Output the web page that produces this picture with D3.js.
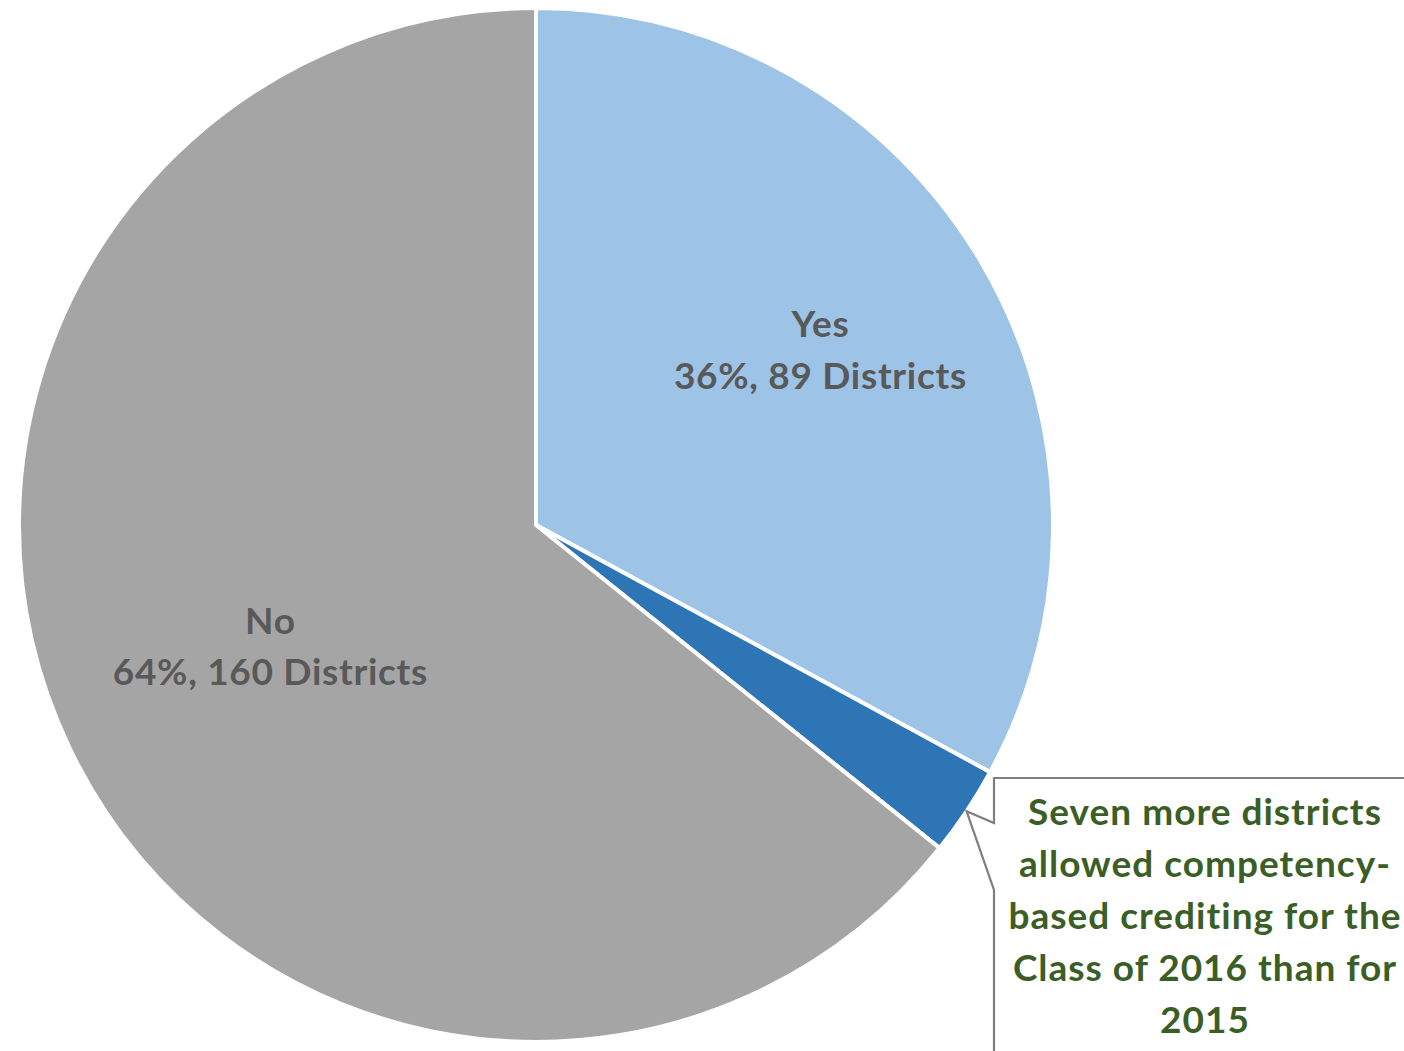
<!DOCTYPE html>
<html>
<head>
<meta charset="utf-8">
<script src="https://cdn.jsdelivr.net/npm/d3@7"></script>
<style>
  body { margin: 0; background: #fff; }
  svg { display: block; }
</style>
</head>
<body>
<div id="chart"></div>
<script>
// slices in drawing order (clockwise from 12 o'clock)
var slices = ['Yes', 'Seven more', 'No'];
var districts = [82, 7, 160];
var sliceColors = ['#9dc3e6', '#2e75b6', '#a5a5a5'];

// data labels: name, count of districts
var labelNames = ['Yes', 'No'];
var labelCounts = [89, 160];
var labelSlice = [0, 2];

var calloutLines = ['Seven more districts', 'allowed competency-', 'based crediting for the', 'Class of 2016 than for', '2015'];

var svgwidth = 1404;
var svgheight = 1051;
var cx = 536, cy = 525, radius = 517;
var total = d3.sum(districts);

var svg = d3.select('#chart')
    .append('svg')
    .attr('width', svgwidth)
    .attr('height', svgheight);

var g = svg.append('g')
    .attr('transform', `translate(${cx}, ${cy})`);

var pie = d3.pie().sort(null).value(d => d.value);
var arcs = pie(slices.map((s, i) => ({ name: s, value: districts[i] })));

var arc = d3.arc().innerRadius(0).outerRadius(radius);

g.selectAll('path')
    .data(arcs)
    .join('path')
    .attr('d', arc)
    .attr('fill', (d, i) => sliceColors[i])
    .attr('stroke', '#fff')
    .attr('stroke-width', 4)
    .attr('stroke-linejoin', 'miter');

// labels
var labelR = [0.64, 0.57];
labelNames.forEach(function (name, i) {
    var a = arcs[labelSlice[i]];
    var r = radius * labelR[i];
    var la = d3.arc().innerRadius(r).outerRadius(r);
    var p = la.centroid(a);
    var pct = Math.round(labelCounts[i] / total * 100);
    var t = g.append('text')
        .attr('x', p[0])
        .attr('y', p[1])
        .attr('text-anchor', 'middle')
        .attr('fill', '#595959')
        .style('font-family', 'Lato, sans-serif')
        .style('font-weight', 700)
        .style('font-size', '37px')
        .style('letter-spacing', '0.7px');
    t.append('tspan').attr('x', p[0]).attr('dy', '-0.5em').text(name);
    t.append('tspan').attr('x', p[0]).attr('dy', '1.38em').text(pct + '%, ' + labelCounts[i] + ' Districts');
});

// callout box pointing at the small slice
var small = arcs[1];
var tipAngle = (small.startAngle + small.endAngle) / 2;
var tip = [cx + Math.sin(tipAngle) * radius, cy - Math.cos(tipAngle) * radius];
var bx = 994, by = 778, bw = 430, bh = 290;

svg.append('path')
    .attr('d', `M${bx},${by} L${bx + bw},${by} L${bx + bw},${by + bh} L${bx},${by + bh} L${bx},890 L${tip[0]},${tip[1]} L${bx},823 Z`)
    .attr('fill', '#fff')
    .attr('stroke', '#7f7f7f')
    .attr('stroke-width', 2.2);

svg.append('g')
    .selectAll('text')
    .data(calloutLines)
    .join('text')
    .attr('x', 1205)
    .attr('y', (d, i) => 825 + i * 52)
    .attr('text-anchor', 'middle')
    .attr('fill', '#3b5e26')
    .style('font-family', 'Lato, sans-serif')
    .style('font-weight', 700)
    .style('font-size', '37px')
    .style('letter-spacing', '1px')
    .text(d => d);
</script>
</body>
</html>
